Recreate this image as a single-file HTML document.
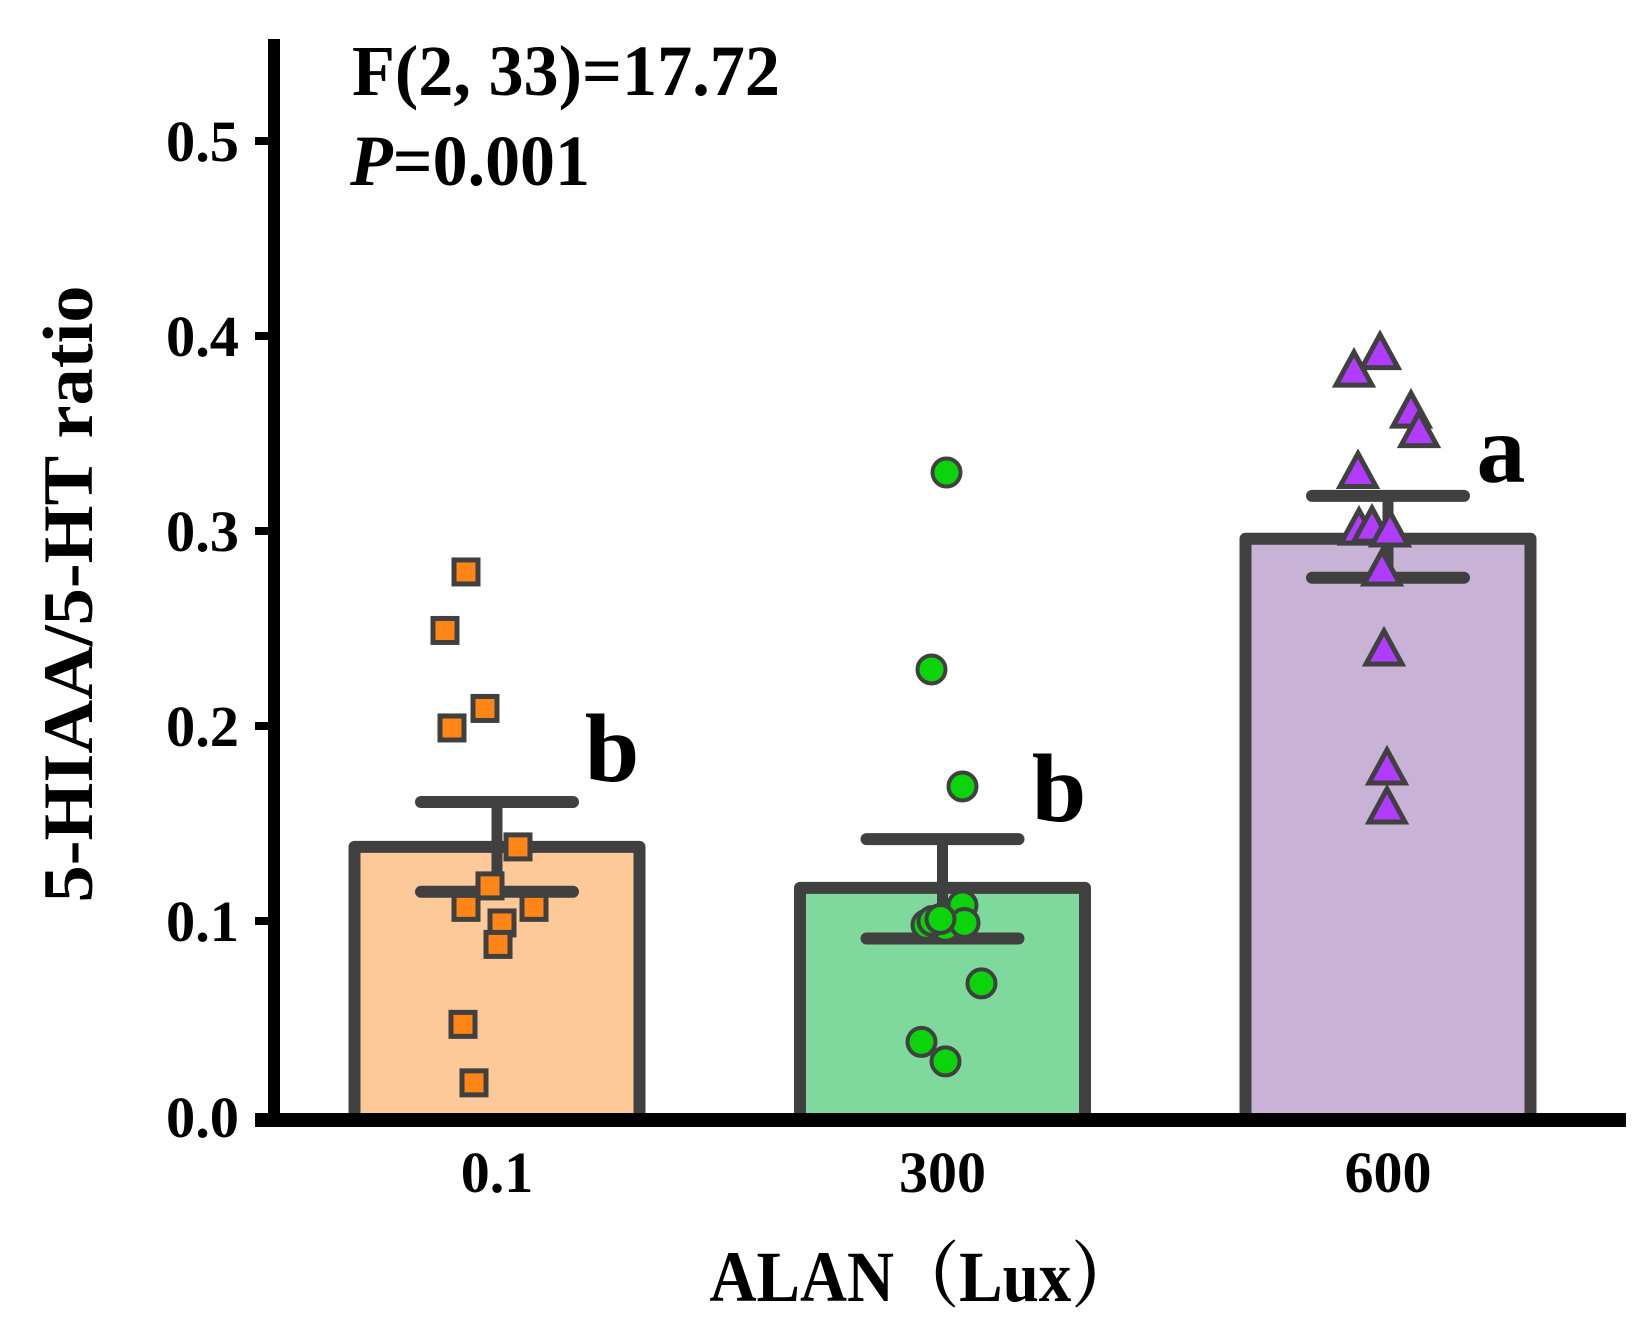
<!DOCTYPE html>
<html><head><meta charset="utf-8"><style>
html,body{margin:0;padding:0;background:#fff;}
svg{display:block;}
text{font-family:"Liberation Serif","Noto Serif CJK SC",serif;font-weight:bold;fill:#000;}
</style></head><body>
<svg id="chart" width="1642" height="1337" viewBox="0 0 1642 1337">
<g id="bars"></g>
<g id="errs"></g>
<g id="pts"></g>
<g id="axes"></g>
<g id="labels"></g>
</svg>
<script>
const categories = ["0.1","300","600"];
const means = [0.138, 0.117, 0.296];
const errUpper = [0.161, 0.142, 0.318];
const errLower = [0.115, 0.091, 0.276];
const letters = ["b","b","a"];
const yTicks = [0,0.1,0.2,0.3,0.4,0.5];
const yTickLabels = ["0.0","0.1","0.2","0.3","0.4","0.5"];
const pts0 = [0.279,0.249,0.209,0.199,0.138,0.118,0.107,0.107,0.099,0.088,0.047,0.017];
const jit0 = [-31,-52,-12,-45,21,-7,-31,37,5,1,-34,-23];
const pts1 = [0.33,0.229,0.169,0.108,0.098,0.097,0.099,0.100,0.101,0.068,0.038,0.028];
const jit1 = [4,-11,20,20,-16,3,22,-10,-2,39,-21,3];
const pts2 = [0.392,0.383,0.362,0.352,0.331,0.302,0.303,0.301,0.281,0.24,0.179,0.159];
const jit2 = [-8,-34,23,31,-30,-29,-16,2,-6,-4,-1,-1];

const NS="http://www.w3.org/2000/svg";
const y0=1116, pxPerUnit=1950;
function yScale(v){return y0 - v*pxPerUnit;}
const xStart=497, xStep=445.5;
function xScale(i){return xStart + i*xStep;}
const barW=285, capW=152;
const fills=["#FDC998","#80D99C","#C8B2D6"];
const mfills=["#FF8516","#0BD40B","#B13BFF"];
const stroke="#404040";
function mk(tag,attrs,parent){const e=document.createElementNS(NS,tag);for(const k in attrs)e.setAttribute(k,attrs[k]);parent.appendChild(e);return e;}
const gb=document.getElementById('bars'),ge=document.getElementById('errs'),gp=document.getElementById('pts'),ga=document.getElementById('axes'),gl=document.getElementById('labels');

categories.forEach((c,i)=>{
  const cx=xScale(i);
  const r=mk('rect',{x:cx-barW/2,y:yScale(means[i]),width:barW,height:yScale(0)-yScale(means[i])+4,fill:fills[i],stroke:stroke,'stroke-width':12,'stroke-linejoin':'round'},gb);
  
  
  const v=mk('line',{x1:cx,x2:cx,y1:yScale(errUpper[i]),y2:yScale(errLower[i]),stroke:stroke,'stroke-width':11},ge);
  
  
  [errUpper[i],errLower[i]].forEach((e,k)=>{
    const l=mk('line',{x1:cx-capW/2,x2:cx+capW/2,y1:yScale(e),y2:yScale(e),stroke:stroke,'stroke-width':12,'stroke-linecap':'round'},ge);
    
    
  });
  const t=mk('text',{x:cx,y:1192,'font-size':58,'text-anchor':'middle'},gl);
  t.textContent=c;
  
  
});
const letterPos=[[612,781],[1059,821],[1501,482]];
letters.forEach((L,i)=>{
  const t=mk('text',{x:letterPos[i][0],y:letterPos[i][1],'font-size':98,'text-anchor':'middle'},gl);
  t.textContent=L;
  
  
});
pts0.forEach((v,j)=>{
  const x=xScale(0)+jit0[j], y=yScale(v);
  const r=mk('rect',{x:x-12,y:y-12,width:24,height:24,fill:mfills[0],stroke:stroke,'stroke-width':5},gp);
  
  
});
pts1.forEach((v,j)=>{
  const x=xScale(1)+jit1[j], y=yScale(v);
  const c=mk('circle',{cx:x,cy:y,r:14,fill:mfills[1],stroke:stroke,'stroke-width':4},gp);
  
  
});
pts2.forEach((v,j)=>{
  const x=xScale(2)+jit2[j], y=yScale(v);
  const p=mk('polygon',{points:`${x},${y-17} ${x+18},${y+16} ${x-18},${y+16}`,fill:mfills[2],stroke:stroke,'stroke-width':5,'stroke-linejoin':'miter'},gp);
  
  
});
const ya=mk('line',{x1:274,x2:274,y1:39,y2:1127,stroke:'#000','stroke-width':12},ga);


const xa=mk('line',{x1:255,x2:1626,y1:1120,y2:1120,stroke:'#000','stroke-width':14},ga);


yTicks.forEach((v,i)=>{
  const y=i===0?1117:yScale(v);
  const tk=mk('line',{x1:255,x2:274,y1:y,y2:y,stroke:'#000','stroke-width':8},ga);
  
  
  const t=mk('text',{x:239,y:y+20,'font-size':58,'text-anchor':'end',textLength:73,lengthAdjust:'spacingAndGlyphs'},gl);
  t.textContent=yTickLabels[i];
  
  
});
</script>
<script>
(function(){
const gl=document.getElementById('labels');
gl.insertAdjacentHTML('beforeend',
'<text x="0" y="0" font-size="71" text-anchor="middle" textLength="617" lengthAdjust="spacingAndGlyphs" transform="translate(92,594) rotate(-90)">5-HIAA/5-HT ratio</text>'+
'<text x="923" y="1301" font-size="72" text-anchor="middle" textLength="427" lengthAdjust="spacingAndGlyphs">ALAN（Lux）</text>'+
'<text x="352" y="95" font-size="72" textLength="428" lengthAdjust="spacingAndGlyphs">F(2, 33)=17.72</text>'+
'<text x="350" y="185" font-size="72" textLength="240" lengthAdjust="spacingAndGlyphs"><tspan font-style="italic">P</tspan>=0.001</text>');
})();
</script>
</body></html>
